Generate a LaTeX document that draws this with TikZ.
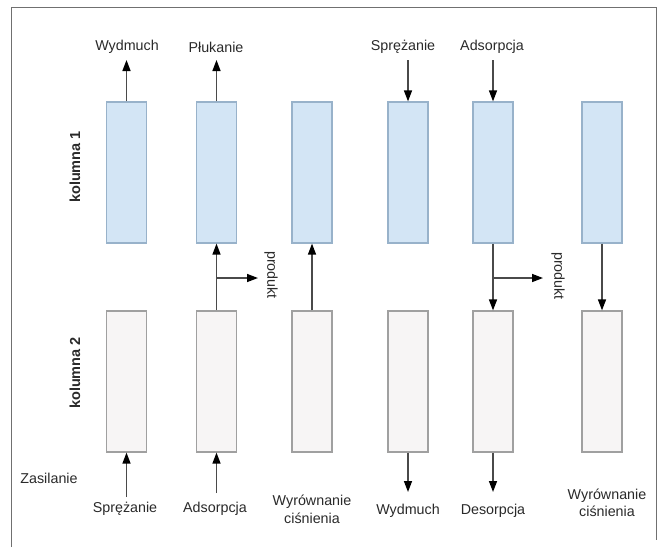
\documentclass[tikz,border=0pt]{standalone}
\usepackage{fontspec}
\setmainfont{Liberation Sans}
\usetikzlibrary{arrows.meta}
\definecolor{bluefill}{HTML}{D3E5F5}
\definecolor{blueedge}{HTML}{98B2CA}
\definecolor{grayfill}{HTML}{F7F5F5}
\definecolor{grayedge}{HTML}{A0A0A0}
\definecolor{linecol}{HTML}{4A4A4A}
\definecolor{textcol}{HTML}{2A2A2A}
\definecolor{framecol}{HTML}{707070}
\tikzset{
  colbox/.style={rectangle, inner sep=0pt, minimum width=40pt, minimum height=141pt, line width=1.2pt},
  topbox/.style={colbox, fill=bluefill, draw=blueedge},
  botbox/.style={colbox, fill=grayfill, draw=grayedge},
  lbl/.style={inner sep=1pt, text=textcol, font=\fontsize{14.3}{17}\selectfont, align=center},
  sidelbl/.style={lbl, font=\fontsize{14.5}{17}\selectfont\bfseries, rotate=90},
  prodlbl/.style={lbl, rotate=-90},
  flow/.style={draw=linecol, line width=1.4pt, -{Triangle[length=11pt,width=8pt,color=black]}},
  plain/.style={draw=linecol, line width=1.4pt}
}
\begin{document}
\begin{tikzpicture}[x=1pt,y=-1pt]
\useasboundingbox (0,0) rectangle (663,547);
\fill[white] (0,0) rectangle (663,547);
\draw[framecol, line width=1pt] (11,547) -- (11,7) -- (656,7) -- (656,540);

% column 1 boxes
\node[topbox] (t1) at (126.5,172.5) {};
\node[topbox] (t2) at (216.5,172.5) {};
\node[topbox] (t3) at (312,172.5) {};
\node[topbox] (t4) at (408,172.5) {};
\node[topbox] (t5) at (493,172.5) {};
\node[topbox] (t6) at (602,172.5) {};
% column 2 boxes
\node[botbox] (b1) at (126.5,381.5) {};
\node[botbox] (b2) at (216.5,381.5) {};
\node[botbox] (b3) at (312,381.5) {};
\node[botbox] (b4) at (408,381.5) {};
\node[botbox] (b5) at (493,381.5) {};
\node[botbox] (b6) at (602,381.5) {};

% side labels
\node[sidelbl] (k1) at (75,167) {kolumna 1};
\node[sidelbl] (k2) at (75,373) {kolumna 2};
\node[lbl] (zas) at (49,478) {Zasilanie};

% top labels
\node[lbl] (lt1) at (127,47) {Wydmuch};
\node[lbl] (lt2) at (216,47) {Płukanie};
\node[lbl] (lt4) at (403,47) {Sprężanie};
\node[lbl] (lt5) at (492,47) {Adsorpcja};
\coordinate (ct1) at (126.5,60);
\coordinate (ct2) at (216.5,60);
\coordinate (ct4) at (408,60);
\coordinate (ct5) at (493,60);
\draw[flow] (t1.north) -- (ct1);
\draw[flow] (t2.north) -- (ct2);
\draw[flow] (ct4) -- (t4.north);
\draw[flow] (ct5) -- (t5.north);

% between rows
\draw[flow] (b2.north) -- (t2.south);
\draw[flow] (b3.north) -- (t3.south);
\draw[flow] (t5.south) -- (b5.north);
\draw[flow] (t6.south) -- (b6.north);
\coordinate (br2) at (216.5,278);
\coordinate (pt2) at (258,278);
\coordinate (br5) at (493,278);
\coordinate (pt5) at (543,278);
\draw[flow] (br2) -- (pt2);
\draw[flow] (br5) -- (pt5);
\node[prodlbl] (p2) at (271,275) {produkt};
\node[prodlbl] (p5) at (558,276) {produkt};

% bottom
\coordinate (cb1) at (126.5,497);
\coordinate (cb2) at (216.5,493);
\coordinate (cb4) at (408,492);
\coordinate (cb5) at (493,492);
\draw[flow] (cb1) -- (b1.south);
\draw[flow] (cb2) -- (b2.south);
\draw[flow] (b4.south) -- (cb4);
\draw[flow] (b5.south) -- (cb5);
\node[lbl] (lb1) at (125,509) {Sprężanie};
\node[lbl] (lb2) at (215,509) {Adsorpcja};
\node[lbl, font=\fontsize{14.3}{18}\selectfont] (lb3) at (312,509) {Wyrównanie\\ciśnienia};
\node[lbl] (lb4) at (408,511) {Wydmuch};
\node[lbl] (lb5) at (493,511) {Desorpcja};
\node[lbl, font=\fontsize{14.3}{17}\selectfont] (lb6) at (607,503) {Wyrównanie\\ciśnienia};
\end{tikzpicture}
\end{document}
